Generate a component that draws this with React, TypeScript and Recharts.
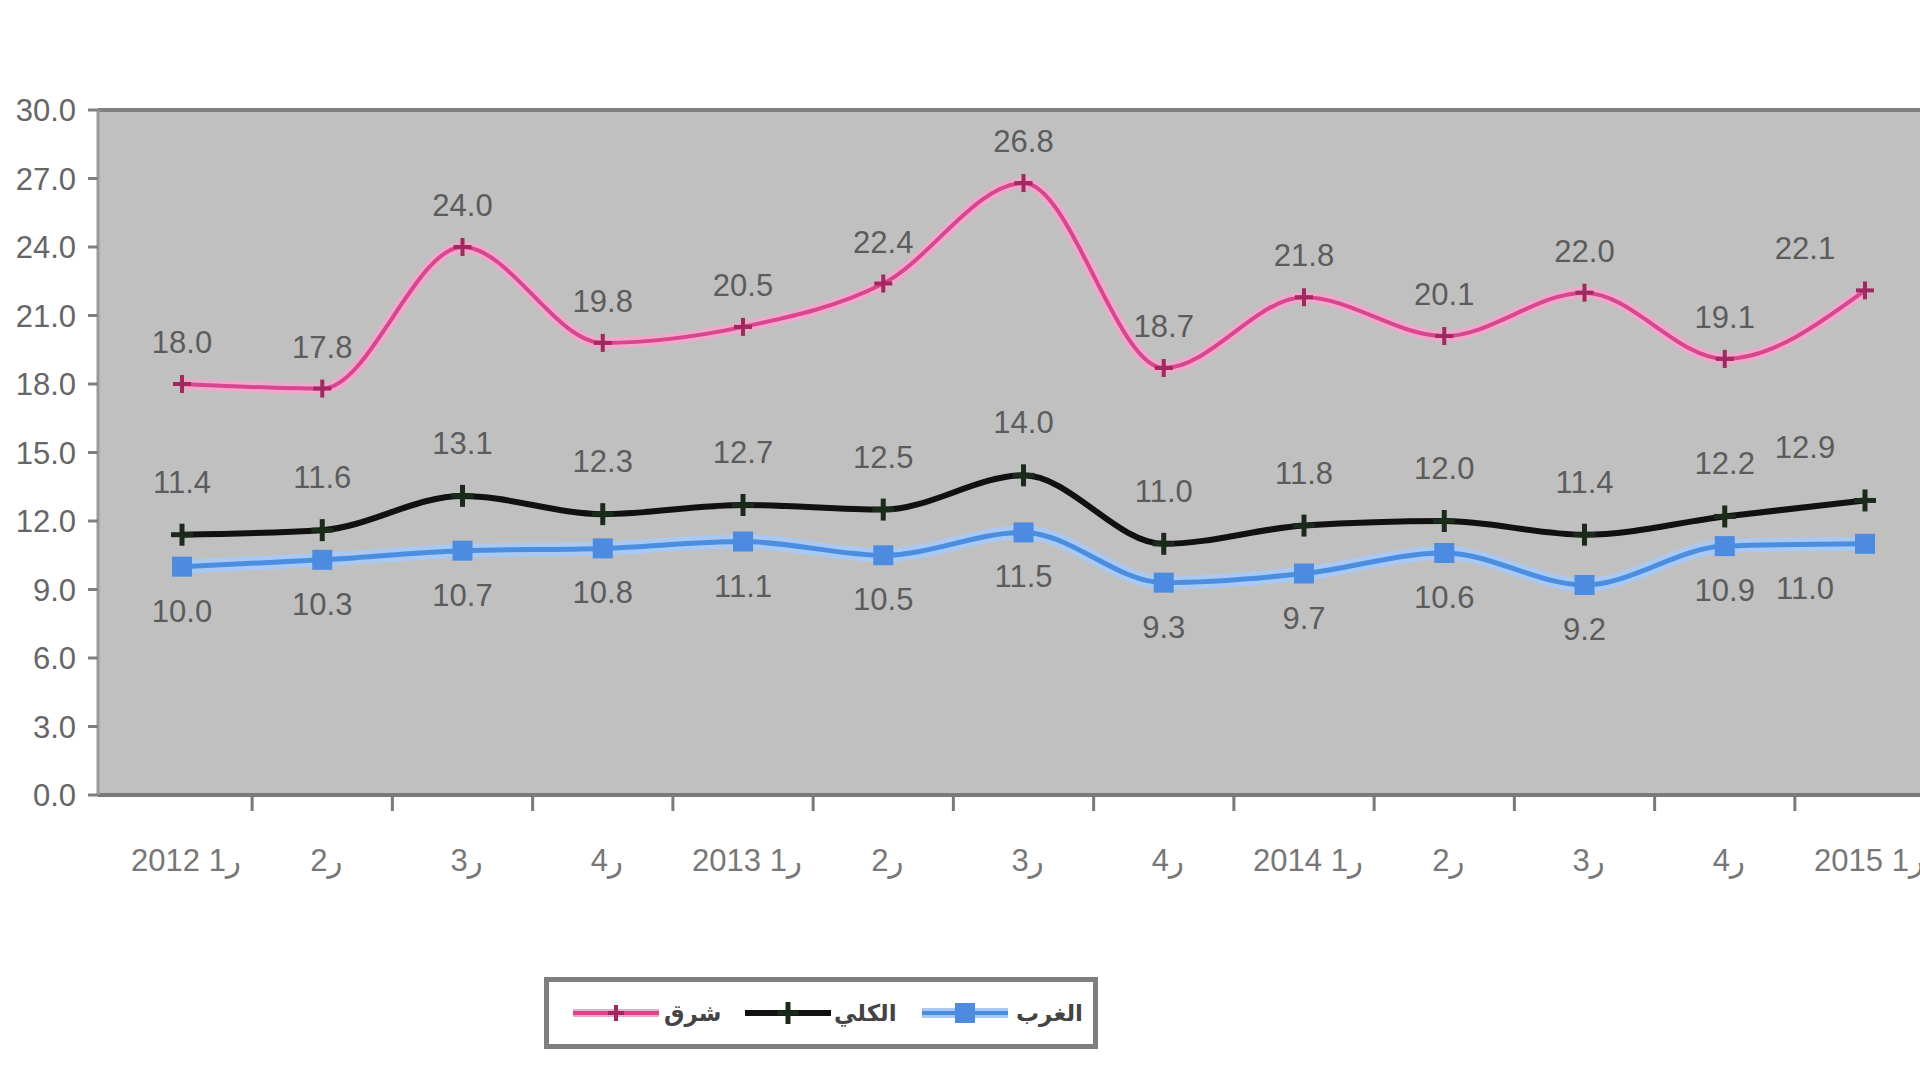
import React from 'react';
import { LineChart, Line, XAxis, YAxis, CartesianGrid, ReferenceLine, LabelList, Legend } from 'recharts';

const quarters = ['2012 1ر', '2ر', '3ر', '4ر', '2013 1ر', '2ر', '3ر', '4ر', '2014 1ر', '2ر', '3ر', '4ر', '2015 1ر'];
const eastValues = [18.0, 17.8, 24.0, 19.8, 20.5, 22.4, 26.8, 18.7, 21.8, 20.1, 22.0, 19.1, 22.1];
const totalValues = [11.4, 11.6, 13.1, 12.3, 12.7, 12.5, 14.0, 11.0, 11.8, 12.0, 11.4, 12.2, 12.9];
const westValues = [10.0, 10.3, 10.7, 10.8, 11.1, 10.5, 11.5, 9.3, 9.7, 10.6, 9.2, 10.9, 11.0];
const yTicks = [0, 3, 6, 9, 12, 15, 18, 21, 24, 27, 30];
const seriesNames = ['شرق', 'الكلي', 'الغرب'];
const seriesColors = ['#d8468f', '#111111', '#4b8ee0'];

const xIndex = quarters.map((_, i) => i);
const X_MIN = -0.599;
const X_MAX = 12.549;

const data = quarters.map((q, i) => ({
  i,
  q,
  east: eastValues[i],
  total: totalValues[i],
  west: westValues[i],
}));

const FONT = 'Liberation Sans, Arial, DejaVu Sans, sans-serif';

const makeLabel = (dy: number) => (props: any) => {
  const x = props.x ?? props.viewBox?.x;
  const y = props.y ?? props.viewBox?.y;
  const { value, index } = props;
  if (x == null || y == null) return null;
  const shift = index === quarters.length - 1 ? -60 : 0;
  return (
    <text
      key={`lbl-${index}`}
      x={x + shift}
      y={y + dy}
      textAnchor="middle"
      fontSize={31}
      fill="#5c5c5c"
      fontFamily={FONT}
    >
      {Number(value).toFixed(1)}
    </text>
  );
};

const plusDot = (color: string, half: number, sw: number) => (p: any) => {
  const { cx, cy, index } = p;
  if (cx == null || cy == null) return <g key={`d-${index}`} />;
  return (
    <g key={`d-${index}`}>
      <line x1={cx - half} y1={cy} x2={cx + half} y2={cy} stroke={color} strokeWidth={sw} />
      <line x1={cx} y1={cy - half} x2={cx} y2={cy + half} stroke={color} strokeWidth={sw} />
    </g>
  );
};

const squareDot = (color: string, size: number) => (p: any) => {
  const { cx, cy, index } = p;
  if (cx == null || cy == null) return <g key={`s-${index}`} />;
  return <rect key={`s-${index}`} x={cx - size / 2} y={cy - size / 2} width={size} height={size} fill={color} />;
};

const XTick = (props: any) => {
  const { x, y, payload, width, index } = props;
  const step = typeof width === 'number' && width > 10 ? width / (X_MAX - X_MIN) : 140;
  const tx = x - step / 2;
  return (
    <g>
      {index > 0 && <line x1={tx} y1={y - 1} x2={tx} y2={y + 16} stroke="#7a7a7a" strokeWidth={3} />}
      <text
        x={x + 4}
        y={y + 76}
        textAnchor="middle"
        fontSize={31}
        letterSpacing={2}
        fill="#777777"
        fontFamily={FONT}
      >
        {quarters[payload.value]}
      </text>
    </g>
  );
};

const LegendMark = ({ kind }: { kind: number }) => {
  const color = seriesColors[kind];
  const w = 86;
  const c = w / 2;
  return (
    <svg width={w} height={30} style={{ display: 'block' }}>
      {kind !== 1 && (
        <line x1={0} y1={15} x2={w} y2={15} stroke={kind === 0 ? '#eeaacb' : '#a9c9f2'} strokeWidth={kind === 0 ? 8 : 10} />
      )}
      <line x1={0} y1={15} x2={w} y2={15} stroke={color} strokeWidth={kind === 1 ? 6 : 4} />
      {kind === 0 && (
        <g>
          <line x1={c - 8} y1={15} x2={c + 8} y2={15} stroke="#a02a60" strokeWidth={4} />
          <line x1={c} y1={7} x2={c} y2={23} stroke="#a02a60" strokeWidth={4} />
        </g>
      )}
      {kind === 1 && (
        <g>
          <line x1={c - 11} y1={15} x2={c + 11} y2={15} stroke="#1b2b1b" strokeWidth={5} />
          <line x1={c} y1={4} x2={c} y2={26} stroke="#1b2b1b" strokeWidth={5} />
        </g>
      )}
      {kind === 2 && <rect x={c - 10} y={5} width={20} height={20} fill="#4d8be0" />}
    </svg>
  );
};

const legendLayout = [
  { line: 24, text: 115 },
  { line: 196, text: 285 },
  { line: 373, text: 467 },
];

const renderLegend = () => (
  <div
    style={{
      position: 'relative',
      width: 554,
      height: 72,
      boxSizing: 'border-box',
      border: '5px solid #7f7f7f',
      background: '#ffffff',
    }}
  >
    {seriesNames.map((name, k) => (
      <React.Fragment key={name}>
        <div style={{ position: 'absolute', left: legendLayout[k].line, top: 16 }}>
          <LegendMark kind={k} />
        </div>
        <div
          style={{
            position: 'absolute',
            left: legendLayout[k].text,
            top: 11,
            fontSize: 23,
            lineHeight: '40px',
            color: '#444444',
            fontFamily: 'DejaVu Sans, sans-serif',
            fontWeight: 'bold',
            whiteSpace: 'nowrap',
          }}
        >
          {name}
        </div>
      </React.Fragment>
    ))}
  </div>
);

export default function App() {
  return (
    <div
      style={{
        position: 'fixed',
        left: 0,
        top: 0,
        width: 1920,
        height: 1080,
        overflow: 'hidden',
        background: '#ffffff',
        fontFamily: FONT,
      }}
    >
      <LineChart width={1950} height={1080} data={data} margin={{ top: 110, right: 8, bottom: 284, left: 0 }}>
        <CartesianGrid xAxisId="lab" fill="#c0c0c0" stroke="none" horizontal={false} vertical={false} />
        <XAxis
          xAxisId="lab"
          type="number"
          dataKey="i"
          domain={[X_MIN, X_MAX]}
          ticks={xIndex}
          allowDataOverflow
          height={1}
          tickSize={0}
          tickMargin={0}
          tickLine={false}
          interval={0}
          axisLine={{ stroke: '#7a7a7a', strokeWidth: 4 }}
          tick={<XTick />}
        />
        <YAxis
          domain={[0, 30]}
          ticks={yTicks}
          width={98}
          interval={0}
          tickSize={10}
          tickMargin={12}
          tickFormatter={(v: number) => v.toFixed(1)}
          tick={{ fontSize: 31, fill: '#666666', fontFamily: FONT }}
          axisLine={{ stroke: '#9a9a9a', strokeWidth: 3 }}
          tickLine={{ stroke: '#808080', strokeWidth: 3 }}
        />
        <ReferenceLine xAxisId="lab" y={30} stroke="#808080" strokeWidth={4} />
        <Legend
          layout="horizontal"
          verticalAlign="middle"
          align="center"
          wrapperStyle={{ left: 544, top: 977, width: 554, height: 72 }}
          content={renderLegend}
        />
        <Line
          xAxisId="lab"
          dataKey="west"
          type="monotone"
          stroke="#a9c9f2"
          strokeWidth={14}
          dot={false}
          activeDot={false}
          legendType="none"
          isAnimationActive={false}
        />
        <Line
          xAxisId="lab"
          dataKey="west"
          name={seriesNames[2]}
          type="monotone"
          stroke={seriesColors[2]}
          strokeWidth={5}
          dot={squareDot('#4d8be0', 20)}
          activeDot={false}
          isAnimationActive={false}
        >
          <LabelList dataKey="west" content={makeLabel(55)} />
        </Line>
        <Line
          xAxisId="lab"
          dataKey="total"
          name={seriesNames[1]}
          type="monotone"
          stroke={seriesColors[1]}
          strokeWidth={6}
          dot={plusDot('#1b2b1b', 11, 5)}
          activeDot={false}
          isAnimationActive={false}
        >
          <LabelList dataKey="total" content={makeLabel(-42)} />
        </Line>
        <Line
          xAxisId="lab"
          dataKey="east"
          type="monotone"
          stroke="#eeaacb"
          strokeWidth={11}
          dot={false}
          activeDot={false}
          legendType="none"
          isAnimationActive={false}
        />
        <Line
          xAxisId="lab"
          dataKey="east"
          name={seriesNames[0]}
          type="monotone"
          stroke={seriesColors[0]}
          strokeWidth={4}
          dot={plusDot('#a02a60', 9, 4)}
          activeDot={false}
          isAnimationActive={false}
        >
          <LabelList dataKey="east" content={makeLabel(-31)} />
        </Line>
      </LineChart>
    </div>
  );
}
